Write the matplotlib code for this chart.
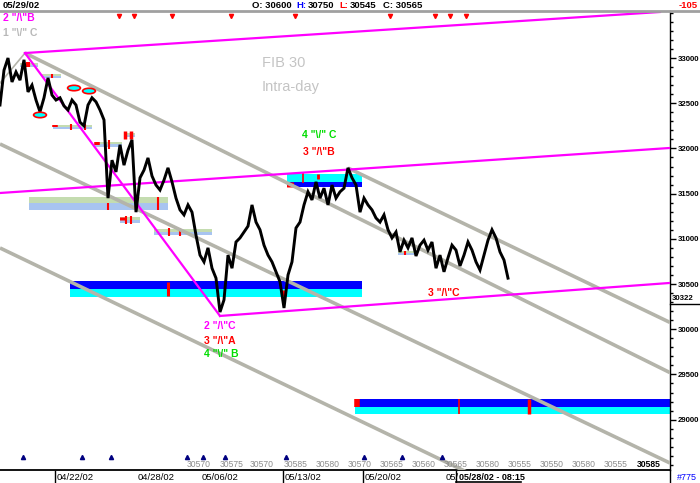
import matplotlib
matplotlib.use('Agg')
import matplotlib.pyplot as plt
import numpy as np
from matplotlib.patches import Rectangle, Ellipse
from matplotlib.lines import Line2D
from matplotlib.ticker import MultipleLocator

plt.rcParams['font.family'] = ['Liberation Sans', 'DejaVu Sans']

# ---------------- data ----------------
close = [32480, 32865, 33000, 32735, 32845, 32755, 32980, 32625, 32700, 32535,
         32405, 32560, 32780, 32590, 32535, 32560, 32470, 32425, 32535, 32480,
         32290, 32250, 32480, 32560, 32515, 32425, 32315, 31450, 31870, 31740,
         32040, 31815, 31980, 32095, 31295, 31675, 31760, 31895, 31695, 31595,
         31540, 31650, 31785, 31630, 31450, 31320, 31265, 31375, 31295, 31040,
         30820, 30745, 30900, 30675, 30565, 30190, 30325, 30820, 30675, 30965,
         31010, 31075, 31140, 31375, 31185, 31100, 30930, 30820, 30745, 30635,
         30525, 30235, 30600, 30745, 31120, 31185, 31375, 31520, 31430, 31630,
         31450, 31560, 31375, 31595, 31450, 31520, 31560, 31785, 31675, 31595,
         31295, 31450, 31375, 31320, 31230, 31185, 31265, 31100, 31010, 31075,
         30855, 30985, 30900, 31010, 30810, 30930, 30985, 30875, 30965, 30675,
         30820, 30635, 30790, 30930, 30875, 30700, 30820, 30965, 30875, 30745,
         30655, 30820, 30985, 31100, 31010, 30855, 30765, 30565]

# trendlines: (bar0, price0, bar1, price1)
gray_lines = [(6.25, 33055, 167.5, 29520), (87, 31783, 167.5, 30075),
              (0, 32049, 167.5, 28520), (0, 30899, 125, 28244)]
gray_thin = [(0, 32723, 6.25, 33055)]
magenta_lines = [(6.25, 33055, 165, 33509), (0, 31507, 167.5, 32005),
                 (55, 30147, 167.5, 30512), (6.25, 33055, 55, 30147)]

# solid bands: (bar0, bar1, price_lo, price_hi, color)
bands = [(17.5, 90.5, 30445, 30534, '#0000ff'), (17.5, 90.5, 30357, 30445, '#00ffff'),
         (88.75, 167.5, 29140, 29229, '#0000ff'), (88.75, 167.5, 29063, 29140, '#00ffff'),
         (71.75, 90.5, 31629, 31717, '#00ffff'), (71.75, 90.5, 31573, 31629, '#0000ff')]

# pale bands: (bar0, bar1, price_lo, price_hi)
pale = [(5, 9.5, 32900, 32945), (10.5, 15.25, 32779, 32823), (13.25, 23, 32215, 32259),
        (23.75, 30.5, 32016, 32071), (7.25, 42, 31319, 31463), (30, 35, 31175, 31241),
        (38.5, 53, 31042, 31109), (99.5, 103.5, 30821, 30865), (31.25, 33.75, 32126, 32170)]

# red marks: (bar, price_lo, price_hi, width)
red_ticks = [(42, 30368, 30523, 2.2), (70.75, 30368, 30434, 2.2), (89.2, 29140, 29229, 4),
             (114.75, 29063, 29229, 1.2), (132.25, 29063, 29229, 2.5),
             (72.5, 31573, 31629, 5), (75.75, 31617, 31728, 1.2), (79.5, 31660, 31720, 2),
             (6.9, 32900, 32956, 3), (13, 32779, 32823, 1.5), (13.75, 32237, 32259, 4),
             (17.75, 32200, 32270, 1.5), (21.25, 32200, 32270, 1.5), (24.25, 32040, 32071, 4),
             (27.25, 31990, 32090, 1.5), (27, 31319, 31400, 1.5), (39.5, 31319, 31463, 1.5),
             (30.75, 31208, 31241, 5), (31.5, 31160, 31250, 1.5), (32.75, 31160, 31250, 1.5),
             (42.25, 31030, 31120, 1.5), (45, 31030, 31120, 1.5), (101.25, 30821, 30865, 1.5),
             (31.3, 32104, 32192, 2.5), (32.7, 32104, 32192, 2.5)]

ovals = [(10, 32370), (18.5, 32668), (22.25, 32635)]

top_marks = [29.75, 33.5, 43, 57.75, 73.75, 97.5, 108.75, 112.5, 116.5]
bottom_marks = [5.75, 20.5, 27.75, 46.75, 50.75, 56.25, 71.5, 91, 100.5, 110.5]

bottom_vals = ['30570', '30575', '30570', '30585', '30580', '30570', '30565', '30560',
               '30565', '30580', '30555', '30550', '30580', '30555', '30585']
bottom_pos = [49.75, 58, 65.5, 74, 82, 90, 98, 106, 114, 122, 130, 138, 146, 154, 162.25]

y_ticks = list(range(29000, 33001, 500))

date_labels = ['04/22/02', '04/28/02', '05/06/02', '05/13/02', '05/20/02', '05/']
date_px = [57, 138, 202, 285, 365, 446]

annotations = [('2 "/\\"B', 0.75, 33442, '#ff00ff'), ('1 "\\/" C', 0.75, 33277, '#b8b8b8'),
               ('4 "\\/" C', 75.5, 32148, '#00dd00'), ('3 "/\\"B', 75.75, 31960, '#ff0000'),
               ('2 "/\\"C', 51, 30036, '#ff00ff'), ('3 "/\\"A', 51, 29870, '#ff0000'),
               ('4 "\\/" B', 51, 29726, '#00dd00'), ('3 "/\\"C', 107, 30401, '#ff0000')]

# ---------------- figure ----------------
W, H = 700, 483
fig = plt.figure(figsize=(7, 4.83), dpi=100)
fig.patch.set_facecolor('white')
L, R, T, B = 0, 670, 11, 470
ax = fig.add_axes([L / W, 1 - B / H, (R - L) / W, (B - T) / H])
ax.set_xlim(0, 167.5)
ax.set_ylim(28443, 33520)
ax.set_facecolor('white')

for s in ['left', 'top']:
    ax.spines[s].set_visible(False)
ax.spines['bottom'].set_color('black')
ax.spines['bottom'].set_linewidth(1.3)
ax.spines['right'].set_color('black')
ax.spines['right'].set_linewidth(1)

ax.set_xticks([])
ax.yaxis.tick_right()
ax.set_yticks(y_ticks)
ax.set_yticklabels([str(v) for v in y_ticks])
ax.yaxis.set_minor_locator(MultipleLocator(100))
ax.tick_params(axis='y', which='major', length=4, width=1, pad=1.5, labelsize=5.6,
               colors='black')
ax.tick_params(axis='y', which='minor', length=2, width=1)
for lab in ax.get_yticklabels():
    lab.set_fontweight('bold')

# bands
for b0, b1, lo, hi, c in bands:
    ax.add_patch(Rectangle((b0, lo), b1 - b0, hi - lo, facecolor=c, edgecolor='none', zorder=1))
for b0, b1, lo, hi in pale:
    mid = (lo + hi) / 2
    ax.add_patch(Rectangle((b0, mid), b1 - b0, hi - mid, facecolor='#c4dcb0', edgecolor='none', zorder=1))
    ax.add_patch(Rectangle((b0, lo), b1 - b0, mid - lo, facecolor='#a8c4f0', edgecolor='none', zorder=1))
for bx, lo, hi, w in red_ticks:
    ax.plot([bx, bx], [lo, hi], color='#ff0000', lw=w, solid_capstyle='butt', zorder=2)

# trendlines
for x0, y0, x1, y1 in gray_lines:
    ax.plot([x0, x1], [y0, y1], color='#b4b4aa', lw=2.6, zorder=3, solid_capstyle='butt')
for x0, y0, x1, y1 in gray_thin:
    ax.plot([x0, x1], [y0, y1], color='#b4b4aa', lw=1.2, zorder=3)
for x0, y0, x1, y1 in magenta_lines:
    ax.plot([x0, x1], [y0, y1], color='#ff00ff', lw=1.6, zorder=4)

# price
bars = np.arange(len(close))
ax.plot(bars, close, color='black', lw=2.1, zorder=5, solid_joinstyle='miter')

# ovals
for bx, p in ovals:
    ax.add_patch(Ellipse((bx, p), 3.2, 60, facecolor='#00ffff', edgecolor='#ff0000', lw=1.2, zorder=6))

# markers
ax.plot(top_marks, [33465] * len(top_marks), linestyle='none', marker='v', color='#ff0000',
        markersize=3, zorder=6, clip_on=False)
ax.plot(bottom_marks, [28590] * len(bottom_marks), linestyle='none', marker='^', color='#000080',
        markersize=3, zorder=6)
for i, (v, p) in enumerate(zip(bottom_vals, bottom_pos)):
    last = i == len(bottom_vals) - 1
    ax.text(p, 28505, v, ha='center', va='center', fontsize=6.2,
            color='black' if last else '#8c8c8c', fontweight='bold' if last else 'normal', zorder=7)

# annotations
for txt, bx, p, c in annotations:
    ax.text(bx, p, txt, color=c, fontsize=7.5, fontweight='bold', ha='left', va='center', zorder=7)
ax.text(65.5, 32945, 'FIB 30', color='#c4c4c4', fontsize=10.5, ha='left', va='center', zorder=7)
ax.text(65.5, 32679, 'Intra-day', color='#c4c4c4', fontsize=10.5, ha='left', va='center', zorder=7)

# header
fig.add_artist(Line2D([0, 1], [1 - 10.5 / H, 1 - 10.5 / H], color='#a0a0a0', lw=2))
hy = 1 - 5 / H
hfs = 6.8
fig.text(3 / W, hy, '05/29/02', fontsize=hfs, fontweight='bold', va='center', ha='left')
fig.text(252 / W, hy, 'O: 30600', fontsize=hfs, fontweight='bold', va='center', ha='left')
fig.text(296 / W, hy, 'H:', fontsize=hfs, fontweight='bold', va='center', ha='left', color='#0000ff')
fig.text(308 / W, hy, '30750', fontsize=hfs, fontweight='bold', va='center', ha='left')
fig.text(339 / W, hy, 'L:', fontsize=hfs, fontweight='bold', va='center', ha='left', color='#ff0000')
fig.text(350 / W, hy, '30545', fontsize=hfs, fontweight='bold', va='center', ha='left')
fig.text(383 / W, hy, 'C: 30565', fontsize=hfs, fontweight='bold', va='center', ha='left')
fig.text(698 / W, hy, '-105', fontsize=hfs, fontweight='bold', va='center', ha='right', color='#ff0000')

# current price box
fig.text(672 / W, 1 - 299 / H, '30322', fontsize=5.6, fontweight='bold', va='center', ha='left')
fig.add_artist(Line2D([670 / W, 1], [1 - 304 / H, 1 - 304 / H], color='black', lw=1))

# date row
dy = 1 - 477.5 / H
for lab, px in zip(date_labels, date_px):
    fig.text(px / W, dy, lab, fontsize=6.8, va='center', ha='left')
fig.text(459 / W, dy, '05/28/02 - 08:15', fontsize=6.5, va='center', ha='left', fontweight='bold')
fig.add_artist(Line2D([456 / W, 521 / W], [1 - 482 / H, 1 - 482 / H], color='black', lw=1.2))
for px in [55, 283, 363, 456]:
    fig.add_artist(Line2D([px / W, px / W], [0, 1 - 471 / H], color='black', lw=1))
fig.add_artist(Line2D([670 / W, 670 / W], [0, 1 - 470 / H], color='black', lw=1))
fig.text(677 / W, dy, '#775', fontsize=6.5, va='center', ha='left', color='#0000ff')

fig.savefig('out.png', dpi=100, facecolor='white')
